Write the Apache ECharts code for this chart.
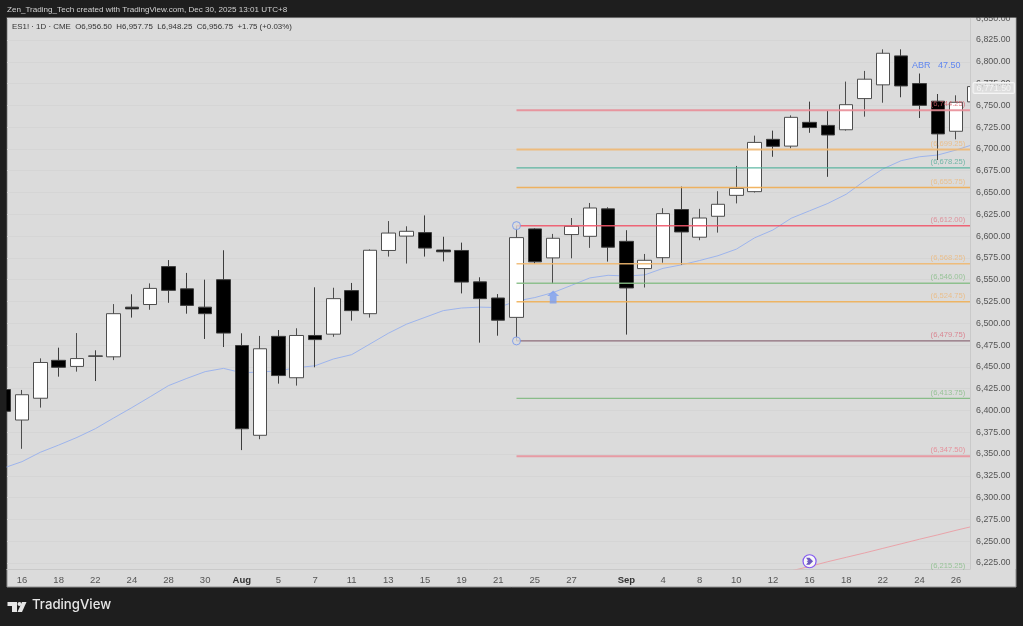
<!DOCTYPE html>
<html>
<head>
<meta charset="utf-8">
<title>ES1! 1D</title>
<style>
	html, body { margin: 0; padding: 0; background: #1e1e1e; }
	#main { width: 1023px; height: 626px; }
</style>
<script src="https://cdn.jsdelivr.net/npm/echarts@6/dist/echarts.min.js"></script>
</head>
<body>
<div id="main"></div>
<script>
// K线数据，下标 0 = Jul 15，53 = Sep 29
var openValues = [6424, 6389, 6414, 6457.5, 6450.5, 6462.5, 6461.5, 6518.5, 6521.5, 6565, 6539.5, 6518.5, 6550, 6474.5, 6371.5, 6485, 6437.5, 6486, 6487.5, 6537.5, 6511, 6583.5, 6600, 6604, 6584, 6583.5, 6547.5, 6529, 6506.75, 6608.25, 6575, 6601.75, 6599.75, 6631.25, 6594, 6562.75, 6575.25, 6630.5, 6598.75, 6622.75, 6646.75, 6651, 6711, 6703.25, 6730.5, 6727, 6722, 6757.75, 6773.5, 6806.75, 6775, 6754.75, 6720.25, 6754];
var closeValues = [6399, 6418, 6455, 6449.5, 6459.5, 6462.25, 6511, 6516.5, 6540, 6537.75, 6520.5, 6511, 6488.75, 6379, 6470.75, 6440, 6486, 6481.25, 6528.25, 6514.5, 6583.75, 6603.5, 6605.5, 6586.25, 6582, 6547.25, 6528.25, 6503.5, 6598.25, 6570.5, 6597.5, 6611.25, 6632.25, 6587.25, 6540.5, 6572.25, 6625.75, 6604.75, 6620.75, 6636.5, 6654.75, 6707.5, 6703, 6736.25, 6724.5, 6716, 6750.75, 6780, 6809.75, 6772.25, 6750, 6717.25, 6753.5, 6771.5];
var lowValues = [6398, 6356, 6403.25, 6438.75, 6444.5, 6433.75, 6457.75, 6506.5, 6515.5, 6523.5, 6511, 6482, 6472.75, 6354.5, 6367, 6430.75, 6428.5, 6449.5, 6484.5, 6503, 6506.5, 6576.5, 6568.5, 6576.5, 6571, 6534.25, 6477.75, 6485.75, 6479.75, 6568, 6545.5, 6574.5, 6586.5, 6570.75, 6487, 6541, 6569.5, 6567, 6595.25, 6604, 6637.5, 6650, 6691, 6700.75, 6718.5, 6668, 6721, 6737, 6753, 6759.25, 6735.5, 6687.25, 6711, 6750];
var highValues = [6426, 6423.5, 6459.75, 6472, 6488.75, 6469, 6522, 6533.25, 6545.75, 6572.5, 6557.75, 6550, 6583.75, 6488.5, 6485.5, 6492.25, 6494.25, 6541.25, 6540.75, 6546.25, 6584.75, 6617.25, 6611.25, 6623.75, 6599.25, 6592.5, 6552.75, 6533.5, 6612, 6609, 6602.5, 6620.75, 6638, 6633, 6606.75, 6579.5, 6632, 6656.75, 6631.25, 6651.5, 6680.5, 6715.25, 6721, 6738.5, 6754.25, 6743.5, 6777.25, 6789.5, 6814.25, 6814.25, 6786.5, 6763, 6761.5, 6775];
// 均线
var maValues = [6334, 6341.25, 6352, 6360.25, 6369, 6379, 6391.25, 6403.25, 6415.75, 6428.5, 6436.75, 6444.5, 6448.25, 6443.25, 6444, 6445.5, 6449, 6451.25, 6459, 6464, 6476.25, 6488.5, 6499, 6506.75, 6514.5, 6517.5, 6518.5, 6518, 6525.5, 6529.5, 6535.25, 6543.5, 6552, 6555, 6554.25, 6555.5, 6563, 6567, 6572, 6577.5, 6585, 6598, 6607, 6620.5, 6629, 6637.5, 6648, 6663.25, 6677, 6686.5, 6691, 6693, 6698.75, 6705.5];
// 右下角趋势线
var trendIndex = [43, 44, 45, 46, 47, 48, 49, 50, 51, 52, 53];
var trendValues = [6216, 6221, 6226.5, 6231.5, 6236.5, 6241.75, 6247, 6252.25, 6257.25, 6262.5, 6267.5];
// 水平价位线
var levelValues = [6744.25, 6699.25, 6678.25, 6655.75, 6612, 6568.25, 6546, 6524.75, 6479.75, 6413.75, 6347.5, 6215.25];
var levelLabels = ["(6,744.25)", "(6,699.25)", "(6,678.25)", "(6,655.75)", "(6,612.00)", "(6,568.25)", "(6,546.00)", "(6,524.75)", "(6,479.75)", "(6,413.75)", "(6,347.50)", "(6,215.25)"];
var anchorValues = [6612, 6479.75];
var arrowValue = 6530;
var xTickIndex = [1, 3, 5, 7, 9, 11, 13, 15, 17, 19, 21, 23, 25, 27, 29, 31, 34, 36, 38, 40, 42, 44, 46, 48, 50, 52];
var xTickLabels = ["16", "18", "22", "24", "28", "30", "Aug", "5", "7", "11", "13", "15", "19", "21", "25", "27", "Sep", "4", "8", "10", "12", "16", "18", "22", "24", "26"];
var yTicks = [6225, 6250, 6275, 6300, 6325, 6350, 6375, 6400, 6425, 6450, 6475, 6500, 6525, 6550, 6575, 6600, 6625, 6650, 6675, 6700, 6725, 6750, 6775, 6800, 6825, 6850];

var FONT = "'Liberation Sans', sans-serif";
var levelColors = ["#e88d97", "#efb873", "#4fb09a", "#f0ac52", "#f0566a", "#f0b870", "#85bd85", "#f0b058", "#86606f", "#7fb87f", "#e8939d", "#7fb87f"];
var levelLabelColors = ["#d4606c", "#edb878", "#55ad98", "#edb878", "#e0808c", "#edb878", "#86bd86", "#edb878", "#d9707f", "#86bd86", "#e8808c", "#86bd86"];
var levelWidths = [2, 2, 1.2, 1.5, 1.5, 1.5, 1.5, 1.5, 1.2, 1.2, 2, 1];

function formatPrice(v){
	return v.toFixed(2).replace(/\B(?=(\d{3})+(?!\d))/g, ",");
}

var candleData = [];
var maData = [];
for(var i = 0; i < openValues.length; i++){
	candleData.push([i, openValues[i], closeValues[i], lowValues[i], highValues[i]]);
	maData.push([i, maValues[i]]);
}
var trendData = [];
for(var i = 0; i < trendIndex.length; i++){
	trendData.push([trendIndex[i], trendValues[i]]);
}

var series = [
	{
		type: "line",
		data: maData,
		showSymbol: false,
		silent: true,
		z: 2,
		lineStyle: { color: "#9db4ec", width: 1 }
	},
	{
		type: "line",
		data: trendData,
		showSymbol: false,
		silent: true,
		z: 2,
		lineStyle: { color: "#e9a3a9", width: 1 }
	},
	{
		type: "candlestick",
		data: candleData,
		encode: { x: 0, y: [1, 2, 3, 4] },
		barWidth: 14,
		z: 3,
		itemStyle: {
			color: "#ffffff",
			color0: "#000000",
			borderColor: "#4d4d4d",
			borderColor0: "#3d3d3d",
			borderWidth: 1
		}
	}
];

// 价位线从下标 28 开始
var levelLabelData = [];
for(var i = 0; i < levelValues.length; i++){
	series.push({
		type: "line",
		data: [[28, levelValues[i]], [53, levelValues[i]]],
		showSymbol: false,
		silent: true,
		z: 4,
		lineStyle: { color: levelColors[i], width: levelWidths[i], opacity: 0.9 }
	});
	levelLabelData.push({
		value: [52.5, levelValues[i]],
		label: { formatter: levelLabels[i], color: levelLabelColors[i] }
	});
}
series.push({
	type: "scatter",
	data: levelLabelData,
	symbolSize: 0,
	clip: false,
	silent: true,
	z: 6,
	label: { show: true, position: "left", distance: 0, offset: [0, -6], fontSize: 7.6, fontFamily: FONT }
});
series.push({
	type: "scatter",
	data: [[28, anchorValues[0]], [28, anchorValues[1]]],
	symbol: "circle",
	symbolSize: 8,
	silent: true,
	z: 5,
	itemStyle: { color: "#dbdbdb", borderColor: "#6f92ee", borderWidth: 1 }
});
series.push({
	type: "scatter",
	data: [[30, arrowValue]],
	symbol: "path://M5 0 L10 5.5 L7.8 5.5 L7.8 13 L2.2 13 L2.2 5.5 L0 5.5 Z",
	symbolSize: [12, 13],
	silent: true,
	z: 5,
	itemStyle: { color: "#7c9ff0" }
});
series.push({
	type: "scatter",
	data: [[44, 6227]],
	symbol: "circle",
	symbolSize: 13,
	silent: true,
	z: 5,
	itemStyle: { color: "#ffffff", borderColor: "#6a35f5", borderWidth: 1.2 }
});
series.push({
	type: "scatter",
	data: [[44, 6227]],
	symbol: "path://M0 0 L4 0 L8 4 L4 8 L0 8 L3 4 Z M1 3.5 L5 3.5 L5 4.5 L1 4.5 Z",
	symbolSize: 7,
	silent: true,
	z: 6,
	itemStyle: { color: "#4a2fb0" }
});

var chart = echarts.init(document.getElementById("main"));
chart.setOption({
	animation: false,
	backgroundColor: "#1e1e1e",
	textStyle: { fontFamily: FONT },
	grid: { left: 7, right: 53, top: 18, height: 551, containLabel: false },
	xAxis: {
		type: "value",
		min: 0.181,
		max: 52.76,
		splitLine: { show: false },
		axisLine: { show: true, onZero: false, lineStyle: { color: "#c9c9c9" } },
		axisTick: { show: false, customValues: xTickIndex },
		axisLabel: {
			customValues: xTickIndex,
			margin: 6,
			fontSize: 9.5,
			color: "#555555",
			formatter: function(v){
				var s = xTickLabels[xTickIndex.indexOf(v)];
				return (s == "Aug" || s == "Sep") ? "{b|" + s + "}" : s;
			},
			rich: { b: { fontWeight: "bold", fontSize: 9.5, color: "#333333" } }
		}
	},
	yAxis: [
		// 网格线
		{
			type: "value",
			position: "right",
			min: 6218.1,
			max: 6850.2,
			axisLine: { show: false },
			axisTick: { show: false, customValues: yTicks },
			axisLabel: { show: false, customValues: yTicks },
			splitLine: { show: true, customValues: yTicks, lineStyle: { color: "#d5d5d5", width: 1 } }
		},
		// 价格刻度，放在遮罩之上
		{
			type: "value",
			position: "right",
			min: 6218.1,
			max: 6850.2,
			z: 10,
			axisLine: { show: true, onZero: false, lineStyle: { color: "#c9c9c9" } },
			axisTick: { show: false, customValues: yTicks },
			splitLine: { show: false },
			axisLabel: {
				customValues: yTicks,
				margin: 6,
				fontSize: 8.9,
				color: "#555555",
				formatter: function(v){ return formatPrice(v); }
			}
		}
	],
	series: series,
	graphic: [
		{ type: "rect", z: -1, shape: { x: 7, y: 17, width: 1009, height: 570 }, style: { fill: "#dbdbdb", stroke: "#8f8f8f", lineWidth: 1 } },
		// 遮住绘图区两侧露出的半根K线
		{ type: "rect", z: 8, shape: { x: 970, y: 18, width: 45.5, height: 551 }, style: { fill: "#dbdbdb" } },
		{ type: "rect", z: 8, shape: { x: 0, y: 18, width: 6.5, height: 551 }, style: { fill: "#1e1e1e" } },
		// 顶部深色条，盖住 6,850 标签的上半部分
		{ type: "rect", z: 100, shape: { x: 0, y: 0, width: 1023, height: 17.5 }, style: { fill: "#1e1e1e" } },
		{ type: "text", z: 101, x: 7, y: 6, style: { text: "Zen_Trading_Tech created with TradingView.com, Dec 30, 2025 13:01 UTC+8", fill: "#d2d2d2", font: "8.1px " + FONT } },
		{ type: "text", z: 101, x: 12, y: 23, style: { text: "ES1! \u00b7 1D \u00b7 CME  O6,956.50  H6,957.75  L6,948.25  C6,956.75  +1.75 (+0.03%)", fill: "#333333", font: "7.9px " + FONT } },
		{ type: "text", z: 101, x: 912, y: 61.5, style: { text: "ABR   47.50", fill: "#5f86f0", font: "9px " + FONT } },
		// 当前价标签
		{ type: "text", z: 101, x: 973.5, y: 83, style: { text: "6,771.50", fill: "#f4f4f4", font: "8.9px " + FONT, backgroundColor: "rgba(222,222,222,0.7)", borderColor: "#f5f5f5", borderWidth: 1, borderRadius: 1, padding: [1, 3, 0, 3] } },
		// TradingView 标志
		{ type: "polygon", z: 101, shape: { points: [[7.5, 602], [17, 602], [17, 612], [12, 612], [12, 606], [7.5, 606]] }, style: { fill: "#e6e6e6" } },
		{ type: "circle", z: 101, shape: { cx: 19.5, cy: 604, r: 2 }, style: { fill: "#e6e6e6" } },
		{ type: "polygon", z: 101, shape: { points: [[22, 602], [26.5, 602], [22, 612], [17.5, 612]] }, style: { fill: "#e6e6e6" } },
		{ type: "text", z: 101, x: 32, y: 599, style: { text: "TradingView", fill: "#e6e6e6", font: "500 13.2px Inter, " + FONT } }
	]
});
</script>
</body>
</html>
